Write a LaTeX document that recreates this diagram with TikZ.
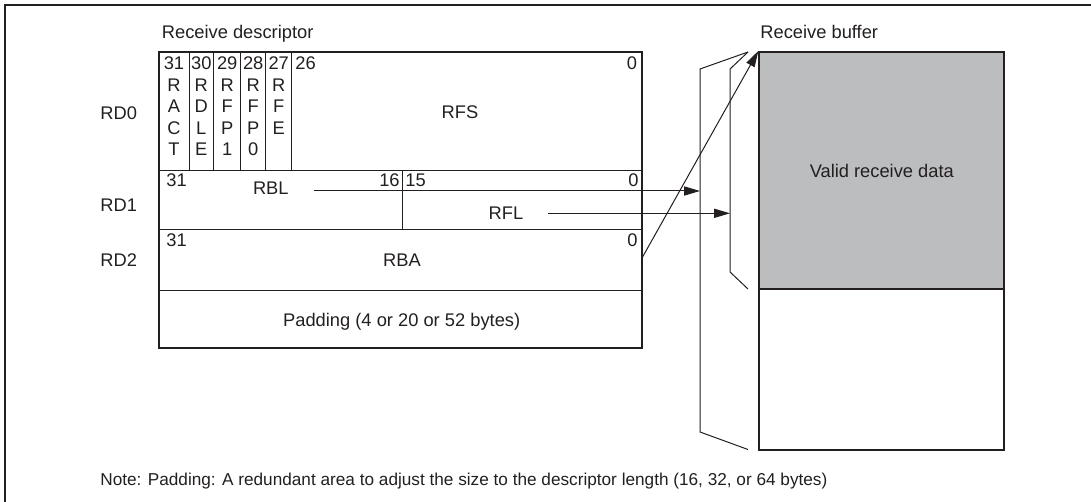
\documentclass[tikz,border=0pt]{standalone}
\usepackage{fontspec}
\setmainfont{Liberation Sans}
\usetikzlibrary{arrows.meta}
\definecolor{inkgray}{HTML}{231F20}
\definecolor{bufgray}{HTML}{BCBDBF}

\begin{document}
\begin{tikzpicture}[
			x=0.5pt, y=-0.5pt,
			font=\fontsize{9.15}{11}\selectfont, text=inkgray,
			lbl/.style={inner sep=0pt},
			frm/.style={draw=inkgray, line width=1pt},
			fld/.style={draw=inkgray, line width=0.5pt},
			arr/.style={draw=inkgray, line width=0.5pt, -{Triangle[length=8pt, width=4.6pt]}},
			bufbox/.style={draw=inkgray, line width=1pt, minimum width=122.5pt, inner sep=0pt}
			]

			\useasboundingbox (0,0) rectangle (1091,502);
			\draw[draw=inkgray, line width=1.25pt] (5,502) -- (5,5) -- (1091,5);

			\node[lbl, anchor=base west] (desc) at (161.5,38.3) {Receive descriptor};
			\node[lbl, anchor=base west] (buf) at (760,38.3) {Receive buffer};

			\node[lbl, anchor=base west] (rd0) at (100,119.3) {RD0};
			\node[lbl, anchor=base west] (rd1) at (100,211.7) {RD1};
			\node[lbl, anchor=base west] (rd2) at (100,266.7) {RD2};

			\draw[frm] (159,52) rectangle (642,348);
			\foreach \y in {171, 230, 290} {
				\draw[fld] (159,\y) -- (642,\y);
			}
			\foreach \x in {189, 213.7, 240.7, 265.7, 291.7} {
				\draw[fld] (\x,52) -- (\x,171);
			}
			\draw[fld] (402,171) -- (402,230);

			\foreach \x/\lst [count=\i] in {174/{31,R,A,C,T}, 201.3/{30,R,D,L,E}, 227.2/{29,R,F,P,1}, 253.2/{28,R,F,P,0}, 278.7/{27,R,F,E}} {
				\foreach \c [count=\j] in \lst {
					\node[lbl, anchor=base] (b\i-\j) at (\x,{70+21.5*(\j-1)}) {\c};
				}
			}
			\node[lbl, anchor=base west] (b26) at (295,70) {26};
			\node[lbl, anchor=base east] (b0a) at (637.5,70) {0};
			\node[lbl, anchor=base] (rfs) at (460,119) {RFS};

			\node[lbl, anchor=base west] (b31b) at (166,186.7) {31};
			\node[lbl, anchor=base east] (b16) at (400,186.7) {16};
			\node[lbl, anchor=base west] (b15) at (405,186.7) {15};
			\node[lbl, anchor=base east] (b0b) at (639,186.7) {0};
			\node[lbl, anchor=base] (rbl) at (270.8,195) {RBL};
			\node[lbl, anchor=base] (rfl) at (506,220) {RFL};

			\node[lbl, anchor=base west] (b31c) at (166,246.7) {31};
			\node[lbl, anchor=base east] (b0c) at (638,246.7) {0};
			\node[lbl, anchor=base] (rba) at (402,266) {RBA};

			\node[lbl, anchor=base] (pad) at (401.7,326.7) {Padding (4 or 20 or 52 bytes)};

			\node[bufbox, fill=bufgray, minimum height=118.5pt] (valid) at (881.8,170.5) {Valid receive data};
			\node[bufbox, minimum height=80.5pt] (spare) at (881.8,369.5) {};

			\coordinate (tip) at (748,52);
			\coordinate (otop) at (700,69);
			\coordinate (obot) at (700,432);
			\coordinate (oend) at (748,449.5);
			\coordinate (itop) at (730,69);
			\coordinate (ibot) at (730,272);
			\coordinate (iend) at (748,289);
			\draw[fld] (tip) -- (otop) -- (obot) -- (oend);
			\draw[fld] (tip) -- (itop) -- (ibot) -- (iend);

			\coordinate (rblA) at (314,191);
			\coordinate (rflA) at (548,213.3);
			\coordinate (rbaA) at (642,258);
			\draw[arr] (rblA) -- (otop |- rblA);
			\draw[arr] (rflA) -- (itop |- rflA);
			\draw[arr] (rbaA) -- (valid.north west);

			\node[lbl, anchor=base west, font=\fontsize{8.6}{10}\selectfont] (note) at (100,485.7) {Note: Padding: A redundant area to adjust the size to the descriptor length (16, 32, or 64 bytes)};

		\end{tikzpicture}
\end{document}
